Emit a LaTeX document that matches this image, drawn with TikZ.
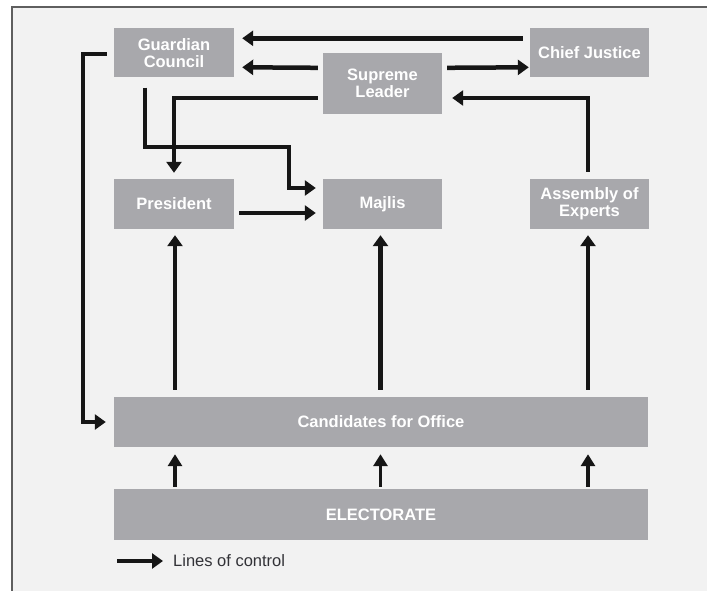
\documentclass[tikz,border=0pt]{standalone}
\usepackage{fontspec}
\setmainfont{Liberation Sans}
\usetikzlibrary{arrows.meta,calc}
\definecolor{bgc}{RGB}{242,242,242}
\definecolor{boxc}{RGB}{168,168,172}
\definecolor{framec}{RGB}{95,95,95}
\definecolor{arrc}{RGB}{22,22,22}
\definecolor{legc}{RGB}{50,50,55}
\begin{document}
\begin{tikzpicture}[x=1pt,y=-1pt,
  box/.style={fill=boxc, draw=none, text=white, font=\fontsize{16.5}{17}\selectfont\bfseries,
    align=center, inner sep=0pt, minimum width=120pt, minimum height=49pt},
  ctrl/.style={draw=arrc, line width=4.5pt, -{Triangle[length=11pt,width=15pt]}},
  vote/.style={draw=arrc, line width=3.5pt, -{Triangle[length=12pt,width=14pt]}}]
\useasboundingbox (0,0) rectangle (707,591);
\fill[white] (0,0) rectangle (707,591);
\fill[bgc] (12,7) rectangle (707,591);
\draw[framec, line width=1.5pt] (12,591) -- (12,7) -- (707,7);

\node[box] (GC) at (174,53) {Guardian\\Council};
\node[box, minimum width=119pt] (CJ) at (589.5,53) {Chief Justice};
\node[box, minimum width=119pt, minimum height=61pt] (SL) at (382.5,83.5) {Supreme\\Leader};
\node[box, minimum height=50pt] (PR) at (174,204) {President};
\node[box, minimum width=119pt, minimum height=50pt] (MJ) at (382.5,204) {Majlis};
\node[box, minimum width=119pt, minimum height=50pt] (AE) at (589.5,204) {Assembly of\\Experts};
\node[box, minimum width=534pt, minimum height=50pt] (CA) at (381,422) {Candidates for Office};
\node[box, minimum width=534pt, minimum height=51pt] (EL) at (381,514.5) {ELECTORATE};

% lines of control
\draw[ctrl] ($(CJ.north west)+(-7,10)$) -- ($(GC.north east)+(8,10)$);
\draw[ctrl] ($(SL.north west)+(-5,15)$) -- ($(GC.north east)+(8,39)$);
\draw[ctrl] ($(SL.north east)+(5,15)$) -- ($(CJ.north west)+(-1,39)$);
\draw[ctrl] ($(SL.north west)+(-5,45)$) -| ($(PR.north)+(0,-6)$);
\coordinate (k1) at (289,147);
\draw[ctrl] ($(GC.south west)+(31,10)$) |- (k1) |- ($(MJ.west)+(-7,-16)$);
\draw[ctrl] ($(PR.east)+(5,9)$) -- ($(MJ.west)+(-7,9)$);
\draw[ctrl] ($(AE.north)+(-1.5,-7)$) |- ($(SL.east)+(10,14.5)$);
\draw[ctrl] ($(GC.west)+(-7,1)$) -- ++(-24,0) |- ($(CA.west)+(-8,0)$);

\draw[ctrl] ($(CA.north -| PR)+(1,-7)$) -- ($(PR.south)+(1,6)$);
\draw[ctrl] ($(CA.north -| MJ)+(-2,-7)$) -- ($(MJ.south)+(-2,6)$);
\draw[ctrl] ($(CA.north -| AE)+(-1.5,-7)$) -- ($(AE.south)+(-1.5,6)$);

\draw[vote] ($(EL.north -| PR)+(1,-2)$) -- ($(CA.south -| PR)+(1,7)$);
\draw[vote] ($(EL.north -| MJ)+(-2,-2)$) -- ($(CA.south -| MJ)+(-2,7)$);
\draw[vote] ($(EL.north -| AE)+(-1.5,-2)$) -- ($(CA.south -| AE)+(-1.5,7)$);

% legend
\coordinate (lg) at (117,561);
\node[anchor=west, inner sep=0pt, text=legc, font=\fontsize{16.5}{17}\selectfont] (LT) at (173,561) {Lines of control};
\draw[ctrl, line width=4pt] (lg) -- ($(LT.west)+(-10,0)$);
\end{tikzpicture}
\end{document}
